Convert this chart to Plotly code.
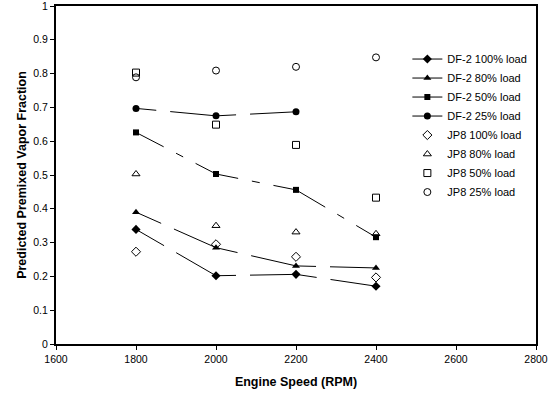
import plotly.graph_objects as go

# ---------------- data ----------------
rpm = [1800, 2000, 2200, 2400]
rpm_25 = [1800, 2000, 2200]

df2_100 = [0.339, 0.202, 0.206, 0.171]
df2_80 = [0.390, 0.285, 0.231, 0.225]
df2_50 = [0.626, 0.503, 0.456, 0.316]
df2_25 = [0.697, 0.675, 0.687]

jp8_100 = [0.273, 0.295, 0.258, 0.197]
jp8_80 = [0.503, 0.350, 0.331, 0.326]
jp8_50 = [0.803, 0.649, 0.589, 0.433]
jp8_25 = [0.789, 0.809, 0.820, 0.848]

x_ticks = [1600, 1800, 2000, 2200, 2400, 2600, 2800]
y_ticks = [0, 0.1, 0.2, 0.3, 0.4, 0.5, 0.6, 0.7, 0.8, 0.9, 1]
y_tick_text = ["0", "0.1", "0.2", "0.3", "0.4", "0.5", "0.6", "0.7", "0.8", "0.9", "1"]

FONT = "Liberation Sans, Arial, sans-serif"
LONG_DASH = "46px,14px"
DASH_DOT = "23px,14px,8px,14px,60px"

df2_series = [
    ("DF-2 100% load", rpm, df2_100, "diamond", 7, LONG_DASH),
    ("DF-2 80% load", rpm, df2_80, "triangle-up", 7, LONG_DASH),
    ("DF-2 50% load", rpm, df2_50, "square", 6, DASH_DOT),
    ("DF-2 25% load", rpm_25, df2_25, "circle", 7, LONG_DASH),
]
jp8_series = [
    ("JP8 100% load", rpm, jp8_100, "diamond-open", 7),
    ("JP8 80% load", rpm, jp8_80, "triangle-up-open", 7),
    ("JP8 50% load", rpm, jp8_50, "square-open", 7),
    ("JP8 25% load", rpm, jp8_25, "circle-open", 7),
]

fig = go.Figure()

# dashed connecting lines, one segment at a time (pattern anchored at segment end)
for name, xs, ys, sym, size, dash in df2_series:
    for i in range(len(xs) - 1):
        fig.add_trace(go.Scatter(
            x=[xs[i + 1], xs[i]], y=[ys[i + 1], ys[i]], mode="lines",
            line=dict(color="black", width=1, dash=dash),
            showlegend=False, hoverinfo="skip"))

# DF-2 markers (interleaved with gaps so no line is drawn, but legend shows line+marker)
for name, xs, ys, sym, size, dash in df2_series:
    gx, gy = [], []
    for xv, yv in zip(xs, ys):
        gx += [xv, None]
        gy += [yv, None]
    fig.add_trace(go.Scatter(
        x=gx, y=gy, mode="lines+markers", name=name, connectgaps=False,
        line=dict(color="black", width=1),
        marker=dict(symbol=sym, size=size, color="black", line=dict(width=0))))

for name, xs, ys, sym, size in jp8_series:
    fig.add_trace(go.Scatter(
        x=xs, y=ys, mode="markers", name=name,
        marker=dict(symbol=sym, size=size, color="black", line=dict(width=1, color="black"))))

fig.update_layout(
    width=558, height=400,
    margin=dict(l=56, r=22, t=6, b=56),
    paper_bgcolor="white", plot_bgcolor="white",
    font=dict(family=FONT, size=10.5, color="black"),
    legend=dict(x=0.732, y=0.886, xanchor="left", yanchor="top",
                bgcolor="rgba(0,0,0,0)", borderwidth=0, tracegroupgap=0,
                font=dict(family=FONT, size=11, color="black")),
)
fig.update_xaxes(
    range=[1600, 2800], tickvals=x_ticks, ticktext=[str(v) for v in x_ticks],
    showgrid=False, zeroline=False, automargin=False, ticklabeloverflow="allow",
    showline=True, linecolor="black", linewidth=2, mirror=True,
    ticks="outside", ticklen=4, tickwidth=1, tickcolor="black",
    title=dict(text="<b>Engine Speed (RPM)</b>", font=dict(family=FONT, size=12.5), standoff=14),
)
fig.update_yaxes(
    range=[0, 1], tickvals=y_ticks, ticktext=y_tick_text,
    showgrid=False, zeroline=False, automargin=False, ticklabeloverflow="allow",
    showline=True, linecolor="black", linewidth=2, mirror=True,
    ticks="outside", ticklen=4, tickwidth=1, tickcolor="black",
    title=dict(text="<b>Predicted Premixed Vapor Fraction</b>", font=dict(family=FONT, size=12.5), standoff=4),
)

fig.write_html("out.html", config={"displayModeBar": False},
               post_script="document.body.style.margin='0';document.body.style.padding='0';")
